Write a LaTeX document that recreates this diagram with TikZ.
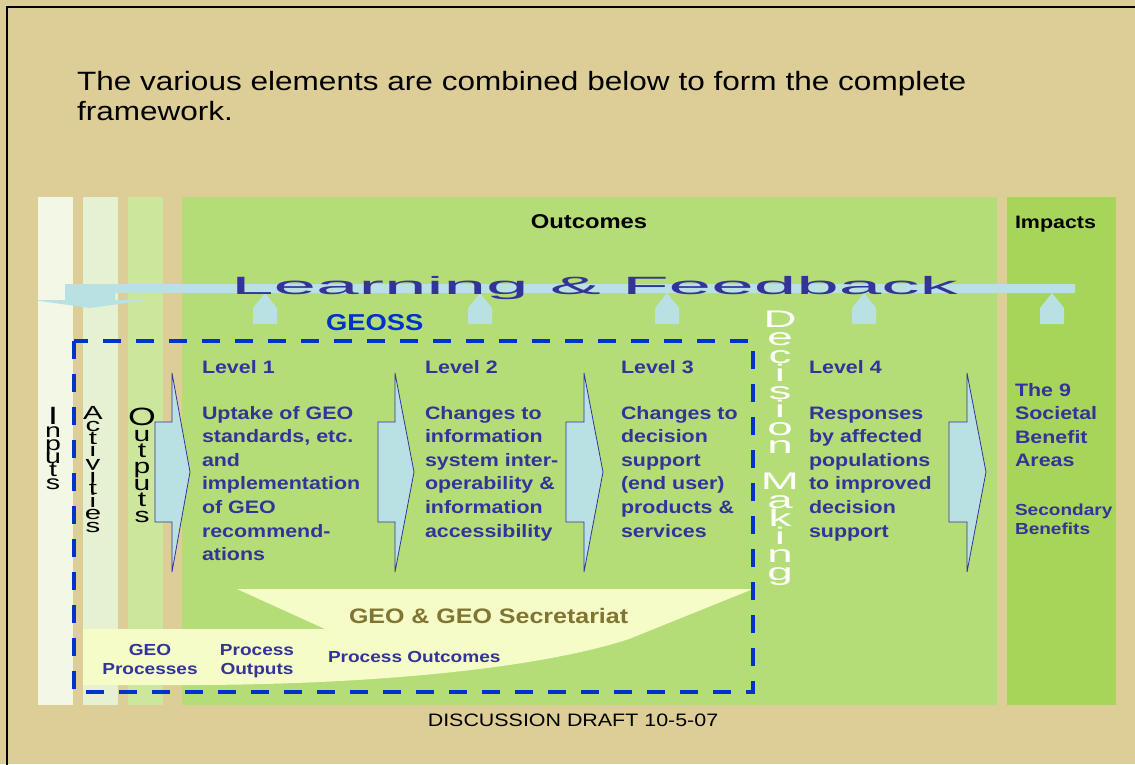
\documentclass[tikz,border=0pt]{standalone}
\usepackage{fontspec}
\setmainfont{Liberation Sans}[FakeStretch=1.19]
\usepackage{graphicx}
\definecolor{beige}{RGB}{221,205,151}
\definecolor{colIn}{RGB}{242,247,230}
\definecolor{colAct}{RGB}{229,241,208}
\definecolor{colOut}{RGB}{204,230,156}
\definecolor{colOc}{RGB}{180,221,120}
\definecolor{colIm}{RGB}{167,213,90}
\definecolor{paleY}{RGB}{245,252,199}
\definecolor{lblue}{RGB}{185,224,227}
\definecolor{tblue}{RGB}{51,51,153}
\definecolor{gblue}{RGB}{0,51,204}
\definecolor{olive}{RGB}{128,117,51}
\newcommand{\stk}[3]{\vtop{\fontsize{#1}{#2}\selectfont\lineskiplimit=-100pt\relax\halign{\hfil##\hfil\cr#3\crcr}}}
\tikzset{
  txt/.style={inner sep=0pt, outer sep=0pt},
  lvl/.style={txt, anchor=base west, text=tblue, font=\bfseries\fontsize{18}{23.6}\selectfont, align=left, text width=190pt},
  small/.style={txt, text=tblue, font=\bfseries\fontsize{16}{19.5}\selectfont, align=center, text width=110pt, anchor=base},
  bigarrow/.style={fill=lblue, draw=tblue, line width=0.8pt, line join=miter},
  uparrow/.style={fill=lblue},
  geobox/.style={draw=gblue, line width=4.5pt, dash pattern=on 18pt off 15pt},
}
\begin{document}
\begin{tikzpicture}[x=1pt,y=-1pt]
\useasboundingbox (0,0) rectangle (1135,764);
\fill[beige] (0,0) rectangle (1135,764);
\draw[line width=2.6pt] (7,770) -- (7,7) -- (1140,7);
% columns
\fill[colIn] (38,197) rectangle (73,705);
\fill[colAct] (83,197) rectangle (118,705);
\fill[colOut] (128,197) rectangle (163,705);
\fill[colOc] (182,197) rectangle (997,705);
\fill[colIm] (1007,197) rectangle (1116,705);
% GEO & GEO Secretariat shape
\fill[paleY] (237,589) -- (325,629) -- (83,629) -- (83,685) -- (200,685)
  .. controls (380,684) and (540,668) .. (629,639) -- (753,589) -- cycle;
% dashed GEOSS box
\draw[geobox] (74,341) rectangle (753,692);
% big block arrows
\draw[bigarrow] (155,422) -- (172,422) -- (172,373) -- (190,472) -- (172,572) -- (172,522) -- (155,522) -- cycle;
\draw[bigarrow] (378,422) -- (395,422) -- (395,373) -- (414,472) -- (395,572) -- (395,522) -- (378,522) -- cycle;
\draw[bigarrow] (566,422) -- (584,422) -- (584,373) -- (603,472) -- (584,572) -- (584,522) -- (566,522) -- cycle;
\draw[bigarrow] (949,422) -- (967,422) -- (967,373) -- (986,472) -- (967,572) -- (967,522) -- (949,522) -- cycle;
% feedback bar with down arrow
\fill[lblue] (1075,284) -- (65,284) -- (65,300) -- (33,300) -- (90,308) -- (148,300) -- (115,300) -- (115,293) -- (1075,293) -- cycle;
\foreach \cx in {265,480,667,864,1052}{
  \fill[uparrow] (\cx,293) -- (\cx+12,308) -- (\cx+12,324) -- (\cx-12,324) -- (\cx-12,308) -- cycle;
}
% texts
\node[txt, anchor=base west, align=left, text width=950pt, font=\fontsize{26.5}{30}\selectfont] (title) at (77,90)
  {The various elements are combined below to form the complete\\framework.};
\node[txt, anchor=base, font=\bfseries\fontsize{20}{24}\selectfont] (outc) at (589,228) {Outcomes};
\node[txt, anchor=base west, font=\bfseries\fontsize{18}{22}\selectfont] (imp) at (1015,228) {Impacts};
\node[txt, anchor=base west, text=tblue, font=\fontsize{25}{30}\selectfont] (lf) at (231,294)
  {\resizebox{727pt}{\height}{Learning \& Feedback}};
\node[txt, anchor=base west, text=gblue, font=\bfseries\fontsize{23}{28}\selectfont] (geoss) at (326,330) {GEOSS};
% stacked column labels
\node[txt, anchor=base] (inp) at (53,424)
  {\scalebox{1.2}[1]{\stk{20}{13}{{\fontsize{25}{12}\selectfont I}\cr n\cr p\cr u\cr t\cr s}}};
\node[txt, anchor=base] (act) at (93,419)
  {\scalebox{1.3}[1]{\stk{19}{12.6}{A\cr c\cr t\cr i\cr v\cr i\cr t\cr i\cr e\cr s}}};
\node[txt, anchor=base] (outp) at (142,425)
  {\scalebox{1.2}[1]{\stk{21}{16.3}{{\fontsize{25}{12}\selectfont O}\cr u\cr t\cr p\cr u\cr t\cr s}}};
\node[txt, anchor=base, text=white] (dm) at (780,327)
  {\scalebox{1.6}[1]{\stk{24}{18.1}{D\cr e\cr c\cr i\cr s\cr i\cr o\cr n\cr \cr M\cr a\cr k\cr i\cr n\cr g}}};
% levels
\node[lvl] (l1) at (202,373) {Level 1};
\node[lvl] (b1) at (202,419) {Uptake of GEO\\standards, etc.\\and\\implementation\\of GEO\\recommend-\\ations};
\node[lvl] (l2) at (425,373) {Level 2};
\node[lvl] (b2) at (425,419) {Changes to\\information\\system inter-\\operability \&\\information\\accessibility};
\node[lvl] (l3) at (621,373) {Level 3};
\node[lvl] (b3) at (621,419) {Changes to\\decision\\support\\(end user)\\products \&\\services};
\node[lvl] (l4) at (809,373) {Level 4};
\node[lvl] (b4) at (809,419) {Responses\\by affected\\populations\\to improved\\decision\\support};
\node[lvl, text width=120pt] (sba) at (1015,396) {The 9\\Societal\\Benefit\\Areas};
\node[lvl, text width=120pt, font=\bfseries\fontsize{16}{19}\selectfont] (sec) at (1015,515) {Secondary\\Benefits};
% process labels
\node[txt, anchor=base west, text=olive, font=\bfseries\fontsize{21}{25}\selectfont] (geosec) at (349,623) {GEO \& GEO Secretariat};
\node[small] (gp) at (150,655) {GEO\\Processes};
\node[small] (po) at (257,655) {Process\\Outputs};
\node[txt, anchor=base west, text=tblue, font=\bfseries\fontsize{16}{19.5}\selectfont] (poc) at (328,662) {Process Outcomes};
\node[txt, anchor=base, font=\fontsize{18}{22}\selectfont] (draft) at (573,726) {DISCUSSION DRAFT 10-5-07};
\end{tikzpicture}
\end{document}
